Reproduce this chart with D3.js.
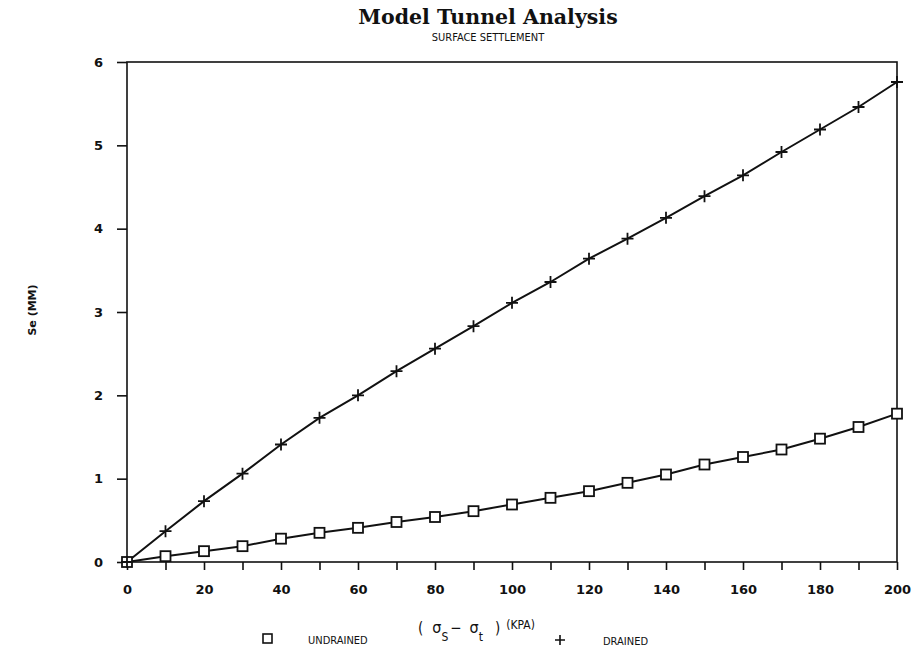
<!DOCTYPE html>
<html lang="en">
<head>
    <meta charset="UTF-8">
    <title>Model Tunnel Analysis</title>
    <script src="https://d3js.org/d3.v7.js"></script>
    <style>
        body {
            margin: 0;
            background: #fff;
        }
        .tick-label {
            font-family: "DejaVu Sans", sans-serif;
            font-weight: bold;
            font-size: 13px;
        }
        .small-label {
            font-family: "DejaVu Sans Condensed", "DejaVu Sans", sans-serif;
            font-size: 11px;
        }
    </style>
</head>
<body>
    <svg id="chart"></svg>

    <script>
        // Data
        const pressure = [0, 10, 20, 30, 40, 50, 60, 70, 80, 90, 100,
                          110, 120, 130, 140, 150, 160, 170, 180, 190, 200];
        const undrained = [0, 0.07, 0.13, 0.19, 0.28, 0.35, 0.41, 0.48, 0.54, 0.61, 0.69,
                           0.77, 0.85, 0.95, 1.05, 1.17, 1.26, 1.35, 1.48, 1.62, 1.78];
        const drained = [0, 0.37, 0.73, 1.06, 1.41, 1.73, 2.00, 2.29, 2.56, 2.83, 3.11,
                         3.36, 3.64, 3.88, 4.13, 4.39, 4.64, 4.92, 5.19, 5.46, 5.76];
        const xTicks = [0, 20, 40, 60, 80, 100, 120, 140, 160, 180, 200];
        const xMinorTicks = d3.range(0, 201, 10);
        const yTicks = [0, 1, 2, 3, 4, 5, 6];

        // Configuration
        const width = 912;
        const height = 651;
        const plotLeft = 127, plotRight = 897, plotTop = 62, plotBottom = 562;

        const svg = d3.select("#chart")
            .attr("width", width)
            .attr("height", height);

        const xScale = d3.scaleLinear().domain([0, 200]).range([plotLeft, plotRight]);
        const yScale = d3.scaleLinear().domain([0, 6]).range([plotBottom, plotTop]);

        // Frame
        svg.append("rect")
            .attr("x", plotLeft)
            .attr("y", plotTop)
            .attr("width", plotRight - plotLeft)
            .attr("height", plotBottom - plotTop)
            .attr("fill", "none")
            .attr("stroke", "#111")
            .attr("stroke-width", 1.6);

        // Y axis
        const yAxis = d3.axisLeft(yScale)
            .tickValues(yTicks)
            .tickSize(10)
            .tickPadding(14)
            .tickFormat(d3.format("d"));
        const gy = svg.append("g")
            .attr("transform", `translate(${plotLeft},0)`)
            .call(yAxis);
        gy.select(".domain").remove();
        gy.selectAll("line").attr("stroke", "#111").attr("stroke-width", 1.6);
        gy.selectAll("text").attr("class", "tick-label").attr("fill", "#111");

        // X axis
        const xAxis = d3.axisBottom(xScale)
            .tickValues(xMinorTicks)
            .tickSize(8)
            .tickPadding(15)
            .tickFormat(d => xTicks.includes(d) ? d : "");
        const gx = svg.append("g")
            .attr("transform", `translate(0,${plotBottom})`)
            .call(xAxis);
        gx.select(".domain").remove();
        gx.selectAll("line").attr("stroke", "#111").attr("stroke-width", 1.6);
        gx.selectAll("text").attr("class", "tick-label").attr("fill", "#111");

        // Lines
        const line = d3.line()
            .x((d, i) => xScale(pressure[i]))
            .y(d => yScale(d));

        [undrained, drained].forEach(series => {
            svg.append("path")
                .datum(series)
                .attr("d", line)
                .attr("fill", "none")
                .attr("stroke", "#111")
                .attr("stroke-width", 2);
        });

        // Markers: squares for undrained, plus for drained
        svg.selectAll(".sq")
            .data(undrained)
            .enter()
            .append("rect")
            .attr("class", "sq")
            .attr("x", (d, i) => xScale(pressure[i]) - 5)
            .attr("y", d => yScale(d) - 5)
            .attr("width", 10)
            .attr("height", 10)
            .attr("fill", "#fff")
            .attr("stroke", "#111")
            .attr("stroke-width", 1.8);

        svg.selectAll(".pl")
            .data(drained)
            .enter()
            .append("path")
            .attr("class", "pl")
            .attr("transform", (d, i) => `translate(${xScale(pressure[i])},${yScale(d)})`)
            .attr("d", "M-6,0H6M0,-6V6")
            .attr("stroke", "#111")
            .attr("stroke-width", 1.8);

        // Title
        svg.append("text")
            .attr("x", 488)
            .attr("y", 24)
            .attr("text-anchor", "middle")
            .attr("font-family", "DejaVu Serif, serif")
            .attr("font-weight", "bold")
            .attr("font-size", 20.5)
            .attr("fill", "#111")
            .text("Model Tunnel Analysis");

        svg.append("text")
            .attr("class", "small-label")
            .attr("x", 488)
            .attr("y", 41)
            .attr("text-anchor", "middle")
            .attr("fill", "#111")
            .text("SURFACE SETTLEMENT");

        // Y label
        svg.append("text")
            .attr("transform", "translate(36,310) rotate(-90)")
            .attr("text-anchor", "middle")
            .attr("font-family", "DejaVu Sans, sans-serif")
            .attr("font-weight", "bold")
            .attr("font-size", 11)
            .attr("fill", "#111")
            .text("Se (MM)");

        // X label
        const xl = svg.append("text")
            .attr("class", "small-label")
            .attr("x", 418)
            .attr("y", 633)
            .attr("fill", "#111");
        xl.append("tspan").attr("font-size", 15).text("(");
        xl.append("tspan").attr("dx", 9).attr("font-size", 16).text("σ");
        xl.append("tspan").attr("dy", 8).attr("font-size", 12).text("S");
        xl.append("tspan").attr("dy", -8).attr("dx", 2).attr("font-size", 15).text("−");
        xl.append("tspan").attr("dx", 8).attr("font-size", 16).text("σ");
        xl.append("tspan").attr("dy", 8).attr("font-size", 12).text("t");
        xl.append("tspan").attr("dy", -8).attr("dx", 12).attr("font-size", 15).text(")");
        xl.append("tspan").attr("dy", -4).attr("dx", 6).attr("font-size", 12).text("(KPA)");

        // Legend
        svg.append("rect")
            .attr("x", 263)
            .attr("y", 634)
            .attr("width", 9)
            .attr("height", 9)
            .attr("fill", "#fff")
            .attr("stroke", "#111")
            .attr("stroke-width", 1.6);
        svg.append("text")
            .attr("class", "small-label")
            .attr("x", 308)
            .attr("y", 644)
            .attr("fill", "#111")
            .text("UNDRAINED");

        svg.append("path")
            .attr("transform", "translate(560,640)")
            .attr("d", "M-5,0H5M0,-5V5")
            .attr("stroke", "#111")
            .attr("stroke-width", 1.6);
        svg.append("text")
            .attr("class", "small-label")
            .attr("x", 603)
            .attr("y", 645)
            .attr("fill", "#111")
            .text("DRAINED");
    </script>
</body>
</html>
